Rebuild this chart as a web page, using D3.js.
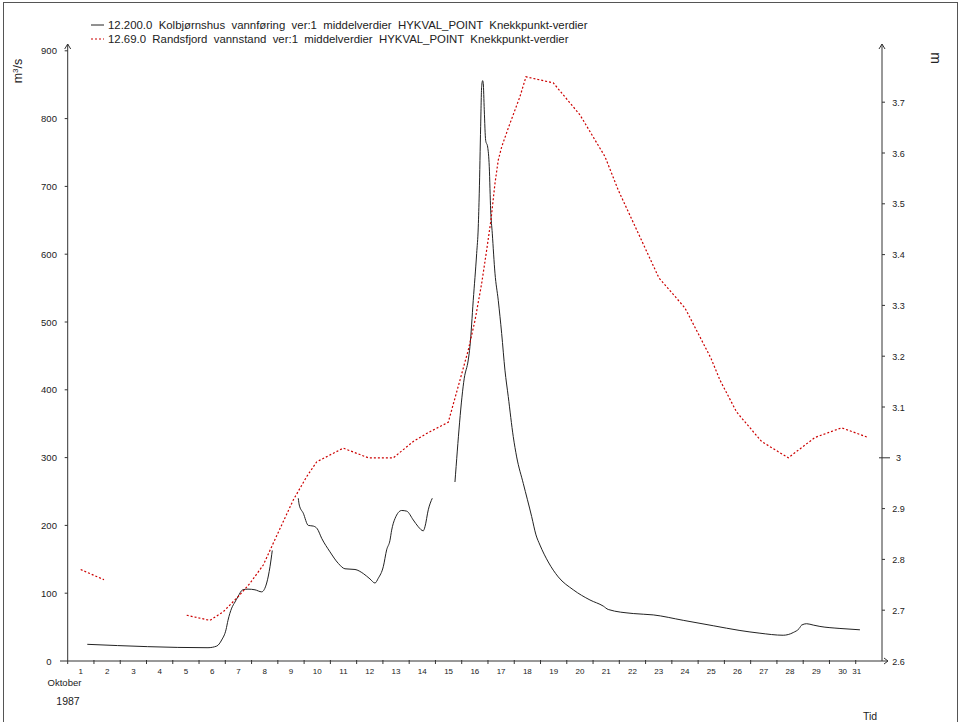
<!DOCTYPE html>
<html>
<head>
<meta charset="utf-8">
<script src="https://cdn.jsdelivr.net/npm/d3@7"></script>
<style>
  body { margin: 0; background: #fff; }
  svg { display: block; font-family: "Liberation Sans", Arial, sans-serif; }
</style>
</head>
<body>
<script>
// time = day of October 1987 (fractional), null value = gap in the series
const flowSeries = [
  [1.746, 24.6], [6.341, 19.6], [6.672, 22], [6.862, 31], [7.026, 46], [7.102, 60],
  [7.243, 78], [7.369, 87], [7.483, 95], [7.662, 105], [7.863, 106], [8.130, 105],
  [8.385, 102], [8.575, 115], [8.701, 139], [8.788, 163],
  [9.2, null],
  [9.778, 240], [9.816, 230], [9.968, 218], [10.159, 200], [10.349, 199], [10.501, 195],
  [10.669, 181], [10.985, 161], [11.301, 144], [11.556, 136], [11.937, 135], [12.253, 129],
  [12.508, 121], [12.698, 115], [12.823, 122], [13.014, 139], [13.143, 164], [13.269, 178],
  [13.333, 193], [13.459, 210], [13.714, 222], [13.905, 221], [14.156, 208], [14.346, 198],
  [14.537, 192], [14.601, 198], [14.727, 223], [14.879, 240],
  [15.3, null],
  [15.743, 264], [16.097, 417], [16.249, 444], [16.314, 464], [16.439, 532], [16.569, 601],
  [16.630, 640], [16.668, 690], [16.721, 788], [16.759, 847], [16.797, 856], [16.820, 852],
  [16.858, 813], [16.911, 768], [16.988, 758], [17.049, 729], [17.102, 665], [17.163, 631],
  [17.266, 572], [17.391, 532], [17.521, 483], [17.646, 429], [17.772, 390], [17.962, 331],
  [18.092, 301], [18.343, 262], [18.663, 213], [18.827, 186], [18.979, 171], [19.295, 146],
  [19.676, 124], [20.247, 105], [20.882, 90], [21.389, 81], [21.578, 76], [22.530, 70],
  [23.291, 68], [24.433, 60], [25.576, 52], [26.592, 45], [27.353, 41], [28.240, 38],
  [28.621, 42], [28.849, 48], [28.941, 53], [29.131, 55], [29.382, 53], [29.637, 51],
  [30.399, 48], [31.160, 46]
];

const levelSeries = [
  [1.495, 2.78], [2.382, 2.76],
  [4.0, null],
  [5.530, 2.69], [6.417, 2.68], [6.923, 2.697], [7.494, 2.727], [7.939, 2.753], [8.446, 2.789],
  [8.853, 2.835], [9.588, 2.917], [10.098, 2.963], [10.479, 2.992], [11.491, 3.019],
  [12.443, 3.0], [13.395, 3.0], [14.156, 3.032], [14.666, 3.048], [15.488, 3.07],
  [15.617, 3.094], [15.934, 3.153], [16.249, 3.212], [16.504, 3.27], [16.759, 3.343],
  [16.950, 3.409], [17.113, 3.468], [17.266, 3.54], [17.391, 3.586], [17.521, 3.612],
  [17.772, 3.649], [18.217, 3.711], [18.446, 3.75], [19.485, 3.738], [20.502, 3.675],
  [21.453, 3.593], [21.959, 3.527], [23.509, 3.354], [24.499, 3.295], [25.488, 3.196],
  [25.831, 3.153], [26.466, 3.09], [27.418, 3.032], [28.431, 3.0], [29.447, 3.04],
  [30.463, 3.059], [31.476, 3.04]
];

const dayLabels = d3.range(1, 32);
const flowTicks = [0, 100, 200, 300, 400, 500, 600, 700, 800, 900];
const levelTicks = [2.6, 2.7, 2.8, 2.9, 3, 3.1, 3.2, 3.3, 3.4, 3.5, 3.6, 3.7];
const legendLabels = [
  '12.200.0  Kolbjørnshus  vannføring  ver:1  middelverdier  HYKVAL_POINT  Knekkpunkt-verdier',
  '12.69.0  Randsfjord  vannstand  ver:1  middelverdier  HYKVAL_POINT  Knekkpunkt-verdier'
];

const W = 961, H = 722;
const left = 67.7, right = 882, bottom = 661;
const axisColor = '#333';

const svg = d3.select('body').append('svg')
  .attr('width', W)
  .attr('height', H);

// outer frame
svg.append('rect')
  .attr('x', 3.5).attr('y', 2.5)
  .attr('width', 954).attr('height', 740)
  .attr('fill', 'none').attr('stroke', '#555').attr('stroke-width', 1);

const x = d3.scaleLinear().domain([1, 32]).range([left, right]);
const yFlow = d3.scaleLinear().domain([0, 900]).range([bottom, 50.8]);
const yLevel = d3.scaleLinear().domain([2.6, 3.7]).range([bottom, 102.2]);

// axes lines
const ax = svg.append('g').attr('stroke', axisColor).attr('fill', 'none').attr('stroke-width', 1);
ax.append('line').attr('x1', left).attr('x2', left).attr('y1', bottom + 3).attr('y2', 44);
ax.append('line').attr('x1', right).attr('x2', right).attr('y1', bottom).attr('y2', 44);
ax.append('line').attr('x1', 60).attr('x2', right + 6).attr('y1', bottom).attr('y2', bottom);
// arrow heads
ax.append('path').attr('d', `M${left - 3},${49} L${left},${44} L${left + 3},${49}`);
ax.append('path').attr('d', `M${right - 3},${49} L${right},${44} L${right + 3},${49}`);
ax.append('path').attr('d', `M${right + 2},${bottom - 3} L${right + 6},${bottom} L${right + 2},${bottom + 3}`);

// left axis ticks
const gl = svg.append('g');
gl.selectAll('line').data(flowTicks.filter(d => d > 0)).join('line')
  .attr('x1', left - 3).attr('x2', left)
  .attr('y1', d => yFlow(d)).attr('y2', d => yFlow(d))
  .attr('stroke', axisColor);
gl.selectAll('text').data(flowTicks).join('text')
  .attr('x', 49).attr('y', d => yFlow(d) + 3.5)
  .attr('text-anchor', 'middle').attr('font-size', 9.5).attr('fill', '#222')
  .text(d => d);

// right axis ticks
const gr = svg.append('g');
gr.selectAll('line').data(levelTicks.filter(d => d > 2.6)).join('line')
  .attr('x1', d => d === 3 ? right - 3 : right).attr('x2', d => d === 3 ? right + 8 : right + 3)
  .attr('y1', d => yLevel(d)).attr('y2', d => yLevel(d))
  .attr('stroke', axisColor);
gr.selectAll('text').data(levelTicks).join('text')
  .attr('x', 898.5).attr('y', d => yLevel(d) + 3.5)
  .attr('text-anchor', 'middle').attr('font-size', 9).attr('fill', '#222')
  .text(d => d);

// x axis ticks (day boundaries) and labels (mid-day)
const gx = svg.append('g');
gx.selectAll('line').data(d3.range(2, 32)).join('line')
  .attr('x1', d => x(d)).attr('x2', d => x(d))
  .attr('y1', bottom - 1).attr('y2', bottom + 3)
  .attr('stroke', axisColor);
gx.selectAll('text').data(dayLabels).join('text')
  .attr('x', d => d === 31 ? x(31) + 1 : x(d + 0.5))
  .attr('y', bottom + 13)
  .attr('text-anchor', 'middle').attr('font-size', 8).attr('fill', '#222')
  .text(d => d);

svg.append('text').attr('x', 64.5).attr('y', 685.5).attr('text-anchor', 'middle')
  .attr('font-size', 9.5).attr('fill', '#222').text('Oktober');
svg.append('text').attr('x', 68).attr('y', 704.5).attr('text-anchor', 'middle')
  .attr('font-size', 10.5).attr('fill', '#222').text('1987');
svg.append('text').attr('x', 870).attr('y', 719.5).attr('text-anchor', 'middle')
  .attr('font-size', 10.5).attr('fill', '#222').text('Tid');

// axis titles
svg.append('text').attr('transform', 'translate(22,71) rotate(-90)')
  .attr('text-anchor', 'middle').attr('font-size', 12.5).attr('fill', '#222')
  .html('m<tspan dy="-4" font-size="8">3</tspan><tspan dy="4">/s</tspan>');
svg.append('text').attr('transform', 'translate(931,58) rotate(90)')
  .attr('text-anchor', 'middle').attr('font-size', 14).attr('fill', '#222')
  .text('m');

// series
const lineFlow = d3.line()
  .defined(d => d[1] !== null)
  .x(d => x(d[0]))
  .y(d => yFlow(d[1]))
  .curve(d3.curveMonotoneX);
const lineLevel = d3.line()
  .defined(d => d[1] !== null)
  .x(d => x(d[0]))
  .y(d => yLevel(d[1]));

svg.append('path').datum(flowSeries)
  .attr('d', lineFlow).attr('fill', 'none')
  .attr('stroke', '#222').attr('stroke-width', 1);
svg.append('path').datum(levelSeries)
  .attr('d', lineLevel).attr('fill', 'none')
  .attr('stroke', '#c00').attr('stroke-width', 1.2)
  .attr('stroke-dasharray', '2,2');

// legend
const lg = svg.append('g');
lg.append('line').attr('x1', 91).attr('x2', 104).attr('y1', 25).attr('y2', 25)
  .attr('stroke', '#222');
lg.append('line').attr('x1', 91).attr('x2', 104).attr('y1', 39).attr('y2', 39)
  .attr('stroke', '#c00').attr('stroke-width', 1.2).attr('stroke-dasharray', '2,2');
lg.selectAll('text').data(legendLabels).join('text')
  .attr('x', 108).attr('y', (d, i) => 29 + i * 14)
  .attr('font-size', 11.4).attr('fill', '#222')
  .style('white-space', 'pre')
  .text(d => d);
</script>
</body>
</html>
